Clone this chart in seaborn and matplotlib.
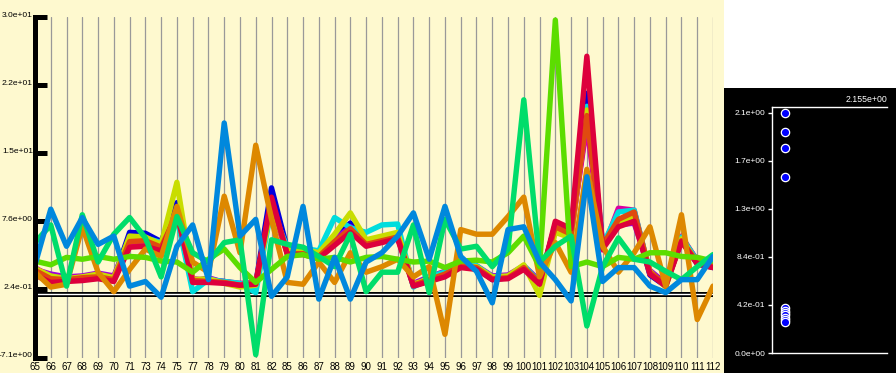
import numpy as np
import matplotlib.pyplot as plt
import matplotlib.transforms as mtransforms
import seaborn as sns
from matplotlib.patches import Rectangle

categories = [str(c) for c in [65, 66, 67, 68, 69, 70, 71, 73, 74, 75, 77, 78, 79, 80, 81, 82,
                               85, 86, 87, 88, 89, 90, 91, 92, 93, 94, 95, 96, 97, 98, 99, 100,
                               101, 102, 103, 104, 105, 106, 107, 108, 109, 110, 111, 112]]

blue = [2.0, 1.2, 1.3, 1.4, 1.7, 1.4, 6.4, 6.3, 5.4, 9.6,
        1.3, 1.3, 1.1, 0.8, 0.9, 11.2, 4.6, 4.5, 3.9, 5.9,
        7.4, 5.4, 5.8, 6.1, 0.6, 1.2, 1.8, 2.9, 2.6, 1.3,
        1.5, 2.6, 0.9, 7.3, 6.6, 21.4, 5.2, 7.6, 8.0, 1.8,
        0.6, 5.6, 3.0, 2.6]
purple = [2.4, 1.9, 1.6, 1.7, 2.0, 1.7, 5.8, 5.7, 5.2, 8.8,
          1.1, 1.5, 1.0, 0.8, 0.6, 9.6, 4.3, 4.4, 4.1, 5.6,
          7.0, 5.4, 5.7, 6.2, 0.9, 1.6, 2.2, 3.1, 2.8, 1.7,
          1.8, 2.8, 1.2, 6.9, 6.1, 18.5, 4.8, 7.2, 7.4, 2.3,
          0.9, 5.8, 3.4, 3.0]
magenta = [2.6, 1.6, 1.5, 1.6, 1.8, 1.6, 5.2, 5.3, 4.9, 8.3,
           1.4, 1.2, 1.1, 0.9, 1.0, 9.0, 4.2, 4.3, 4.0, 5.3,
           6.6, 5.0, 5.4, 5.8, 0.8, 1.4, 2.0, 3.0, 2.7, 1.5,
           1.6, 2.7, 1.1, 7.2, 6.3, 18.0, 4.5, 9.0, 8.8, 2.0,
           0.7, 6.0, 3.3, 2.9]
cyan = [2.1, 1.3, 1.2, 1.3, 1.5, 1.2, 5.6, 5.8, 5.3, 8.0,
        0.0, 1.3, 1.1, 0.9, -0.1, 9.0, 4.8, 4.7, 4.4, 8.0,
        6.9, 6.4, 7.2, 7.3, 0.5, 1.6, 2.1, 3.0, 2.8, 1.6,
        1.5, 2.8, 1.0, 7.0, 6.5, 20.0, 5.0, 8.6, 8.8, 2.0,
        0.7, 5.9, 3.3, 2.8]
yellowgreen = [2.5, 1.7, 1.4, 1.6, 1.9, 1.5, 6.0, 5.9, 5.1, 11.8,
               1.3, 1.4, 0.9, 0.5, 0.7, 9.2, 4.4, 4.6, 4.2, 6.2,
               8.5, 5.6, 6.0, 6.4, 0.8, 1.4, 1.8, 2.8, 2.7, 1.6,
               1.7, 2.9, -0.4, 6.4, 5.8, 19.6, 4.8, 7.4, 8.2, 2.2,
               0.5, 5.7, 3.1, 2.7]
orangered = [2.3, 1.4, 1.3, 1.5, 1.6, 1.3, 5.4, 5.5, 4.8, 8.4,
             1.2, 1.1, 1.0, 0.7, 0.9, 9.8, 4.1, 4.1, 3.8, 5.4,
             6.8, 5.1, 5.5, 5.9, 0.7, 1.3, 1.9, 2.8, 2.6, 1.4,
             1.5, 2.6, 1.0, 7.0, 6.2, 19.0, 5.0, 7.8, 8.6, 2.1,
             0.8, 5.5, 3.2, 2.8]
red = [1.8, 1.0, 1.1, 1.2, 1.4, 1.1, 4.8, 4.9, 4.4, 8.6,
       1.0, 1.0, 0.9, 0.7, 0.8, 10.2, 4.0, 4.0, 3.6, 5.0,
       6.4, 4.9, 5.3, 5.7, 0.6, 1.1, 1.6, 2.6, 2.4, 1.3,
       1.4, 2.4, 0.8, 7.6, 6.8, 25.4, 4.6, 7.0, 7.6, 1.9,
       0.6, 5.4, 3.0, 2.6]
orange = [2.1, 0.5, 0.8, 7.0, 2.1, 0.0, 2.4, 4.6, 3.8, 9.2,
          3.2, 2.1, 10.3, 4.2, 15.8, 7.8, 1.0, 0.8, 3.2, 1.0,
          4.2, 2.1, 2.7, 3.5, 1.6, 2.7, -4.6, 6.7, 6.2, 6.2,
          8.1, 10.2, 1.6, 5.3, 2.1, 13.2, 4.9, 2.1, 4.2, 7.0,
          0.6, 8.3, -3.0, 0.6]
lime = [3.3, 2.9, 3.7, 3.5, 3.8, 3.5, 3.8, 3.7, 3.3, 3.2,
        2.1, 3.5, 4.6, 2.6, 1.0, 2.4, 3.8, 4.0, 3.5, 3.7,
        3.2, 3.7, 3.8, 3.5, 3.2, 3.3, 2.6, 3.3, 3.4, 3.2,
        4.2, 6.0, 2.7, 29.3, 2.7, 3.2, 2.7, 3.7, 3.5, 4.2,
        4.2, 3.8, 3.7, 3.3]
springgreen = [5.3, 7.2, 0.6, 8.3, 3.2, 6.2, 8.0, 5.8, 1.6, 8.1,
               4.2, 3.2, 5.3, 5.6, -6.8, 5.6, 5.1, 4.8, 3.8, 2.7,
               6.2, 0.0, 2.1, 2.1, 7.2, -0.1, 7.8, 4.6, 4.9, 2.7,
               4.6, 20.7, 3.2, 4.9, 6.0, -3.7, 2.7, 5.8, 3.5, 3.2,
               2.2, 1.3, 2.7, 4.0]
azure = [2.9, 8.9, 4.9, 8.0, 5.1, 6.0, 0.6, 1.1, -0.6, 4.9,
         7.2, 1.3, 18.2, 6.0, 7.8, -0.5, 1.6, 9.2, -0.8, 3.7,
         -0.8, 3.2, 4.2, 6.0, 8.5, 3.5, 9.2, 3.8, 2.2, -1.2,
         6.7, 7.0, 3.2, 1.3, -1.0, 12.4, 1.1, 2.6, 2.6, 0.6,
         -0.1, 1.3, 1.3, 3.8]

# draw order, bottom to top
series = [
    (blue, "#0000DD"),
    (purple, "#A000DD"),
    (magenta, "#DD00A0"),
    (cyan, "#00DDDD"),
    (yellowgreen, "#C8DD00"),
    (orangered, "#E04A10"),
    (red, "#DD003C"),
    (orange, "#DD8800"),
    (lime, "#5CDD00"),
    (springgreen, "#00DD6A"),
    (azure, "#0088DD"),
]

scatter_values = [2.10, 1.93, 1.79, 1.54, 0.39, 0.37, 0.35, 0.33, 0.31, 0.29, 0.27]

y_min, y_max = -7.1, 29.6
ref_line = -0.2
right_max = 2.155
right_ticks = [0.0, 0.42, 0.84, 1.26, 1.68, 2.1]

CREAM = "#FEF9CF"
W, H = 896, 373

sns.set_theme(style="white")
plt.rcParams['font.family'] = ['Liberation Sans', 'DejaVu Sans']

fig = plt.figure(figsize=(W / 100, H / 100), dpi=100)
fig.patch.set_facecolor(CREAM)
fig.patches.append(Rectangle((724 / W, 0), 172 / W, 1, transform=fig.transFigure,
                             facecolor="white", edgecolor="none", zorder=-10))
fig.patches.append(Rectangle((724 / W, 0), 172 / W, 285 / H, transform=fig.transFigure,
                             facecolor="black", edgecolor="none", zorder=-9))

# left panel: lines
ax = fig.add_axes([35 / W, 15.5 / H, 678 / W, 340.2 / H])
ax.set_facecolor("none")
ax.axhline(ref_line, color="black", lw=3.6, zorder=1.5)
ax.axhline(ref_line, color="white", lw=1.0, zorder=1.6)
for vals, col in series:
    sns.lineplot(x=categories, y=vals, color=col, lw=3.9, sort=False,
                 errorbar=None, ax=ax, zorder=2)

ax.set_xlim(0, len(categories) - 1)
ax.set_ylim(y_min, y_max)
yt = np.linspace(y_min, y_max, 6)
ax.set_yticks(yt)
ax.set_yticklabels([f"{v:.1e}" for v in yt])
ax.grid(axis="x", color="#999999", lw=0.9)
ax.grid(axis="y", visible=False)
for s in ["top", "right", "bottom"]:
    ax.spines[s].set_visible(False)
ax.spines["left"].set_color("black")
ax.spines["left"].set_linewidth(3.6)
ax.tick_params(axis="y", left=True, direction="in", length=8.5, width=3.6, color="black",
               labelsize=6.1, pad=1.5, labelcolor="black")
ax.tick_params(axis="x", bottom=False, length=0, labelsize=7, pad=3, labelcolor="black")
ax.set_xlabel("")
ax.set_ylabel("")
shift = mtransforms.ScaledTranslation(0, 2 / 72, fig.dpi_scale_trans)
for lab in ax.get_yticklabels():
    lab.set_transform(lab.get_transform() + shift)

# right panel: points
ax2 = fig.add_axes([772 / W, 20 / H, 115 / W, 246.5 / H])
ax2.set_facecolor("none")
sns.stripplot(y=scatter_values, jitter=False, color="#0000FF", edgecolor="white",
              linewidth=0.9, size=6, ax=ax2)
ax2.set_xlim(-0.5, 3.92)
ax2.set_ylim(0, right_max)
ax2.set_xticks([])
ax2.set_yticks(right_ticks)
ax2.set_yticklabels([f"{v:.1e}" for v in right_ticks])
ax2.spines["right"].set_visible(False)
for s in ["left", "bottom", "top"]:
    ax2.spines[s].set_visible(True)
    ax2.spines[s].set_color("white")
    ax2.spines[s].set_linewidth(1)
ax2.tick_params(axis="y", left=True, colors="white", direction="out", length=3, width=1,
                labelsize=6, pad=2)
ax2.text(1, 1.01, f"{right_max:.3e}", transform=ax2.transAxes, ha="right",
         va="bottom", color="white", fontsize=6.3)
ax2.set_xlabel("")
ax2.set_ylabel("")

fig.savefig("out.png", dpi=100, facecolor=fig.get_facecolor())
